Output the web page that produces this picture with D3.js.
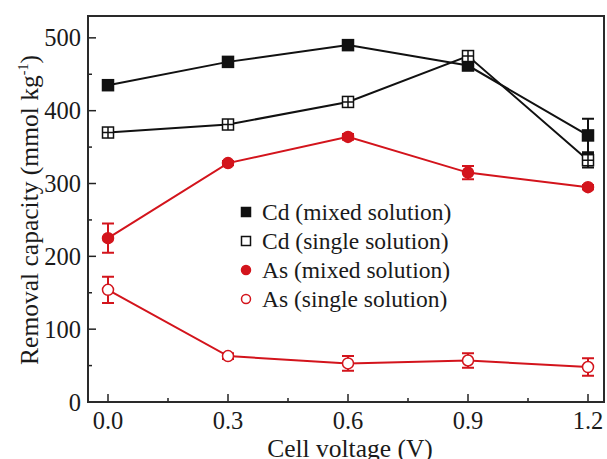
<!DOCTYPE html>
<html lang="en">
<head>
    <meta charset="UTF-8">
    <title>Removal capacity</title>
    <script src="https://d3js.org/d3.v7.min.js"></script>
    <style>
        body { margin: 0; background: #fff; }
        svg text { font-family: "Liberation Serif", "Times New Roman", serif; fill: #1a1a1a; }
    </style>
</head>
<body>
<div id="chart"></div>
<script>
    // Cell voltage (V)
    var voltages = [0.0, 0.3, 0.6, 0.9, 1.2];

    // removal capacity (mmol/kg) and error bars
    var cdMixed = [435, 467, 490, 462, 366];
    var cdMixedErr = [4, 4, 4, 5, 23];
    var cdSingle = [370, 381, 412, 475, 332];
    var cdSingleErr = [4, 5, 5, 6, 10];
    var asMixed = [225, 328, 364, 315, 295];
    var asMixedErr = [20, 3, 4, 9, 3];
    var asSingle = [154, 63, 53, 57, 48];
    var asSingleErr = [18, 4, 10, 10, 12];

    var xTicks = [0.0, 0.3, 0.6, 0.9, 1.2];
    var yTicks = [0, 100, 200, 300, 400, 500];

    var legendLabels = ["Cd (mixed solution)", "Cd (single solution)", "As (mixed solution)", "As (single solution)"];

    var red = "#d3141c";
    var series = [
        { name: legendLabels[0], y: cdMixed, err: cdMixedErr, color: "#111", shape: "square", filled: true },
        { name: legendLabels[1], y: cdSingle, err: cdSingleErr, color: "#111", shape: "square", filled: false },
        { name: legendLabels[2], y: asMixed, err: asMixedErr, color: red, shape: "circle", filled: true },
        { name: legendLabels[3], y: asSingle, err: asSingleErr, color: red, shape: "circle", filled: false }
    ];

    var width = 607, height = 459;
    var plot = { left: 88, right: 604, top: 16, bottom: 402 };

    var svg = d3.select("#chart").append("svg")
        .attr("width", width)
        .attr("height", height);

    var x = d3.scaleLinear().domain([-0.05, 1.24]).range([plot.left, plot.right]);
    var y = d3.scaleLinear().domain([0, 530]).range([plot.bottom, plot.top]);

    // inward ticks, major + minor
    var axisG = svg.append("g").attr("stroke", "#222");
    xTicks.forEach(function(t) {
        axisG.append("line").attr("x1", x(t)).attr("x2", x(t)).attr("y1", plot.bottom).attr("y2", plot.bottom - 8).attr("stroke-width", 1.5);
    });
    [0.15, 0.45, 0.75, 1.05].forEach(function(t) {
        axisG.append("line").attr("x1", x(t)).attr("x2", x(t)).attr("y1", plot.bottom).attr("y2", plot.bottom - 4).attr("stroke-width", 1.5);
    });
    yTicks.forEach(function(t) {
        axisG.append("line").attr("x1", plot.left).attr("x2", plot.left + 8).attr("y1", y(t)).attr("y2", y(t)).attr("stroke-width", 1.5);
    });
    [50, 150, 250, 350, 450].forEach(function(t) {
        axisG.append("line").attr("x1", plot.left).attr("x2", plot.left + 4).attr("y1", y(t)).attr("y2", y(t)).attr("stroke-width", 1.5);
    });

    svg.append("rect")
        .attr("x", plot.left).attr("y", plot.top)
        .attr("width", plot.right - plot.left).attr("height", plot.bottom - plot.top)
        .attr("fill", "none").attr("stroke", "#2a2a2a").attr("stroke-width", 2);

    svg.selectAll(".xlab").data(xTicks).enter().append("text")
        .attr("x", function(d) { return x(d); })
        .attr("y", 429)
        .attr("text-anchor", "middle")
        .attr("font-size", 24.5)
        .text(function(d) { return d3.format(".1f")(d); });

    svg.selectAll(".ylab").data(yTicks).enter().append("text")
        .attr("x", 81)
        .attr("y", function(d) { return y(d) + 8.5; })
        .attr("text-anchor", "end")
        .attr("font-size", 24.5)
        .text(function(d) { return d; });

    svg.append("text")
        .attr("x", 350).attr("y", 457)
        .attr("text-anchor", "middle")
        .attr("font-size", 25.5)
        .text("Cell voltage (V)");

    var yt = svg.append("text")
        .attr("transform", "translate(38,210) rotate(-90)")
        .attr("text-anchor", "middle")
        .attr("font-size", 25.5);
    yt.append("tspan").text("Removal capacity (mmol kg");
    yt.append("tspan").attr("dy", -10).attr("font-size", 14).text("-1");
    yt.append("tspan").attr("dy", 10).text(")");

    var line = d3.line()
        .x(function(d, i) { return x(voltages[i]); })
        .y(function(d) { return y(d); });

    var drawMarker = function(g, s, cx, cy, size) {
        if (s.shape === "square") {
            g.append("rect")
                .attr("x", cx - size / 2).attr("y", cy - size / 2)
                .attr("width", size).attr("height", size)
                .attr("fill", s.filled ? s.color : "#fff")
                .attr("stroke", s.color).attr("stroke-width", 1.5);
            if (!s.filled && size > 10) {
                g.append("path")
                    .attr("d", "M" + (cx - size / 2) + "," + cy + "H" + (cx + size / 2) + "M" + cx + "," + (cy - size / 2) + "V" + (cy + size / 2))
                    .attr("stroke", s.color).attr("stroke-width", 1.5);
            }
        } else {
            g.append("circle")
                .attr("cx", cx).attr("cy", cy).attr("r", size / 2)
                .attr("fill", s.filled ? s.color : "#fff")
                .attr("stroke", s.color).attr("stroke-width", 1.5);
        }
    };

    series.forEach(function(s) {
        var g = svg.append("g");
        g.append("path")
            .attr("d", line(s.y))
            .attr("fill", "none")
            .attr("stroke", s.color)
            .attr("stroke-width", 2);

        s.y.forEach(function(v, i) {
            var cx = x(voltages[i]);
            var hi = y(v + s.err[i]), lo = y(v - s.err[i]);
            g.append("path")
                .attr("d", "M" + cx + "," + hi + "V" + lo +
                    "M" + (cx - 6) + "," + hi + "H" + (cx + 6) +
                    "M" + (cx - 6) + "," + lo + "H" + (cx + 6))
                .attr("stroke", s.color).attr("stroke-width", 2).attr("fill", "none");
        });
        s.y.forEach(function(v, i) {
            drawMarker(g, s, x(voltages[i]), y(v), 11);
        });
    });

    // legend
    var legend = svg.append("g");
    series.forEach(function(s, i) {
        var ly = 212 + i * 29;
        drawMarker(legend, s, 246, ly, 9);
        legend.append("text")
            .attr("x", 262).attr("y", ly + 8)
            .attr("font-size", 23.5)
            .text(s.name);
    });
</script>
</body>
</html>
